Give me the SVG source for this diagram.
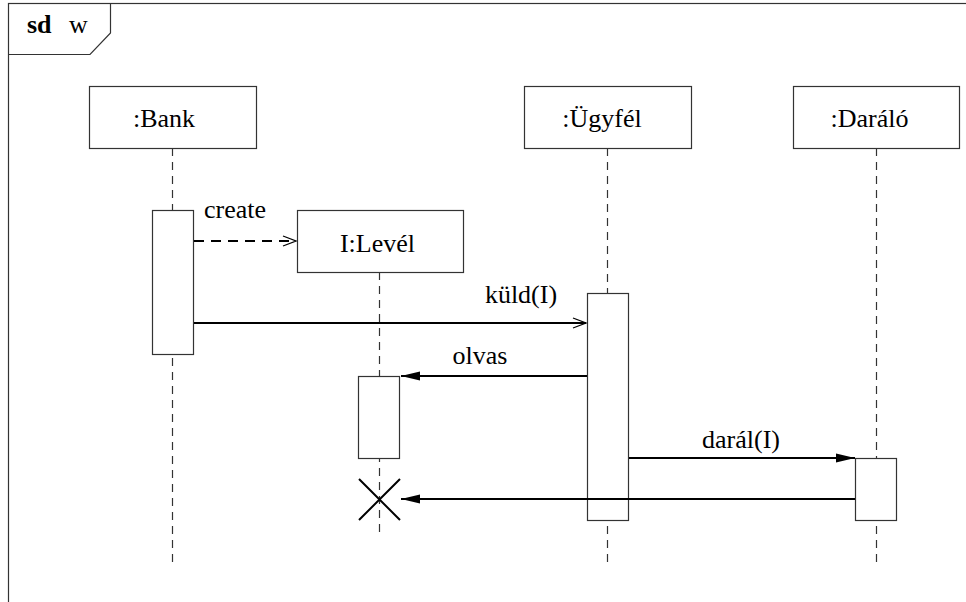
<svg xmlns="http://www.w3.org/2000/svg" width="966" height="602" viewBox="0 0 966 602">
<defs>
<style>
.box{fill:#fff;stroke:#333;stroke-width:1.2}
.life{stroke:#333;stroke-width:1.2;stroke-dasharray:8 6;fill:none}
.msg{stroke:#000;stroke-width:2;fill:none}
.mid{text-anchor:middle}
</style>
<marker id="open" markerUnits="userSpaceOnUse" markerWidth="16" markerHeight="14" refX="14" refY="7" orient="auto">
<path d="M1,2 L14,7 L1,12" fill="none" stroke="#000" stroke-width="1.3"/>
</marker>
<marker id="filled" markerUnits="userSpaceOnUse" markerWidth="20" markerHeight="12" refX="19" refY="6" orient="auto">
<path d="M0,1.5 L19,6 L0,10.5 Z" fill="#000"/>
</marker>
</defs>
<g font-family="'Liberation Serif', 'Times New Roman', Times, serif" font-size="26" fill="#000">
<g id="frame">
<rect x="8.5" y="3.5" width="980" height="620" fill="none" stroke="#333" stroke-width="1.2"/>
<path d="M8.5,54.5 H90 L110.5,33 V3.5" fill="none" stroke="#333" stroke-width="1.2"/>
<text x="27" y="33" font-weight="bold">sd</text>
<text x="69" y="33">w</text>
</g>
<g id="lifelines">
<line class="life" x1="172.5" y1="148" x2="172.5" y2="562"/>
<line class="life" x1="379.5" y1="272" x2="379.5" y2="533"/>
<line class="life" x1="607.5" y1="148" x2="607.5" y2="562"/>
<line class="life" x1="876.5" y1="148" x2="876.5" y2="562"/>
</g>
<g id="bank">
<rect class="box" x="89.5" y="86.5" width="167" height="62"/>
<text class="mid" x="164" y="127">:Bank</text>
</g>
<g id="ugyfel">
<rect class="box" x="524.5" y="86.5" width="167" height="62"/>
<text class="mid" x="602" y="127">:Ügyfél</text>
</g>
<g id="daralo">
<rect class="box" x="793.5" y="86.5" width="166" height="62"/>
<text class="mid" x="869.5" y="127">:Daráló</text>
</g>
<g id="level">
<rect class="box" x="297.5" y="210.5" width="166" height="62"/>
<text class="mid" x="377.5" y="252">I:Levél</text>
</g>
<g id="activations">
<rect id="act-bank" class="box" x="152.5" y="210.5" width="41" height="144"/>
<rect id="act-level" class="box" x="358.5" y="376.5" width="41" height="82"/>
<rect id="act-ugyfel" class="box" x="587.5" y="293.5" width="41" height="227"/>
<rect id="act-daralo" class="box" x="855.5" y="458.5" width="41" height="62"/>
</g>
<g id="connectors">
<line class="msg" x1="194" y1="241" x2="296" y2="241" stroke-dasharray="10 7" marker-end="url(#open)"/>
<line class="msg" x1="194" y1="323" x2="586" y2="323" marker-end="url(#open)"/>
<line class="msg" x1="587" y1="376" x2="401" y2="376" marker-end="url(#filled)"/>
<line class="msg" x1="629" y1="458" x2="855" y2="458" marker-end="url(#filled)"/>
<line class="msg" x1="855" y1="499" x2="401" y2="499" marker-end="url(#filled)"/>
<path d="M359,479 L400,520 M400,479 L359,520" stroke="#000" stroke-width="2" fill="none"/>
</g>
<g id="labels">
<text x="204" y="218">create</text>
<text class="mid" x="521" y="303">küld(I)</text>
<text class="mid" x="480" y="364">olvas</text>
<text class="mid" x="741" y="448">darál(I)</text>
</g>
</g>
</svg>
